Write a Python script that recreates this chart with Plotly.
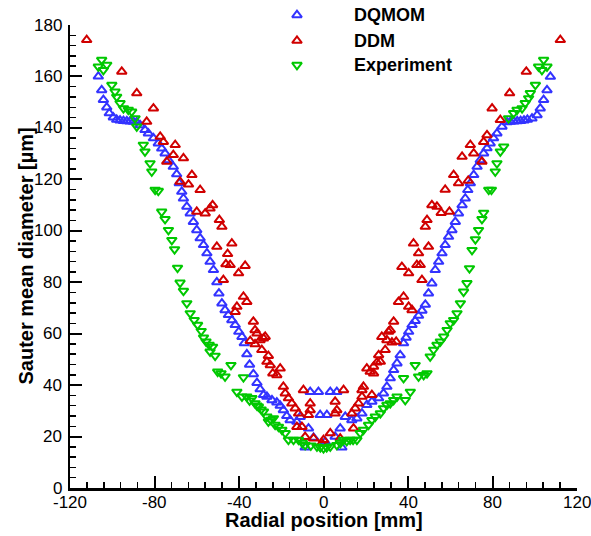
import plotly.graph_objects as go

# ---- data ----
dqmom_r = [-106.6, -105.0, -104.2, -102.6, -101.4, -99.5, -97.9, -96.3, -94.7, -93.1, -91.6, -90.0,
           -88.4, -86.8, -84.5, -82.9, -80.5, -78.2, -76.6, -75.0, -73.4, -71.1, -69.5, -68.3,
           -67.1, -66.3, -64.7, -63.1, -61.6, -60.0, -58.4, -56.8, -55.2, -53.7, -52.1, -50.5,
           -49.5, -48.1, -46.6, -45.0, -43.4, -41.8, -40.1, -38.6, -37.5, -36.3, -35.0, -33.2,
           -31.5, -30.0, -28.4, -26.8, -24.4, -22.1, -20.5, -19.0, -17.4, -15.8, -12.6, -11.0,
           -7.1, -8.7, -6.3, -2.4, -1.6, -4.7, 0.8, 1.6, 3.2, 6.3, 5.5, 7.9, 8.7,
           10.3, 13.4, 15.8, 18.2, 20.5, 22.9, 26.1, 28.4, 30.0, 31.6, 33.2, 34.8, 36.3,
           37.9, 39.1, 40.3, 41.9, 43.4, 45.0, 46.6, 48.2, 49.7, 51.3, 52.9, 54.5, 56.1,
           57.6, 59.2, 60.8, 62.4, 63.9, 65.6, 67.1, 68.3, 69.5, 71.1, 72.7, 74.2, 75.8,
           77.4, 78.9, 80.5, 82.1, 84.5, 86.9, 88.5, 90.1, 91.7, 93.3, 94.9, 96.5, 98.7,
           101.1, 102.6, 104.2, 105.8, 107.4]
dqmom_d = [160.0, 154.7, 150.9, 148.0, 145.7, 144.1, 143.2, 142.9, 142.7, 142.6, 142.5, 142.4,
           142.2, 141.1, 139.2, 137.9, 136.0, 134.0, 132.0, 130.1, 127.5, 124.9, 122.0, 118.5,
           115.2, 112.6, 109.4, 106.8, 103.5, 100.3, 97.1, 94.5, 91.3, 88.0, 84.8, 80.0,
           75.7, 71.8, 69.2, 67.3, 65.3, 63.4, 60.8, 58.8, 56.3, 52.0, 48.0, 44.3,
           40.9, 38.4, 36.2, 35.5, 34.2, 33.3, 32.0, 30.3, 28.0, 26.4, 25.8, 27.7,
           23.2, 15.8, 37.4, 37.4, 28.4, 19.6, 18.0, 28.4, 37.4, 37.4, 20.0, 23.2, 15.8,
           27.7, 26.4, 27.1, 29.0, 32.3, 33.6, 34.9, 36.8, 39.4, 42.7, 45.9, 48.5, 51.7,
           56.3, 58.5, 60.8, 63.4, 65.0, 67.0, 69.0, 71.3, 75.7, 79.6, 84.8, 88.0, 91.3,
           94.5, 97.7, 100.3, 103.5, 106.8, 110.0, 112.6, 115.9, 118.5, 121.7, 124.9, 127.5, 130.1,
           132.1, 134.0, 136.0, 137.9, 140.5, 142.2, 142.4, 142.5, 142.6, 142.7, 142.9, 143.2, 143.7,
           145.0, 147.6, 150.9, 154.7, 159.9]

ddm_r = [-112.1, -95.5, -88.4, -80.5, -83.7, -77.3, -75.8, -70.2, -71.1, -74.2, -66.3, -62.3,
         -63.9, -67.9, -58.4, -60.0, -56.0, -52.5, -53.7, -49.3, -48.1, -50.5, -43.4, -45.4,
         -44.2, -46.2, -37.1, -40.2, -47.4, -37.9, -36.3, -41.0, -41.8, -33.2, -32.4, -31.5,
         -28.4, -34.7, -32.4, -30.0, -27.6, -29.2, -26.1, -26.8, -25.2, -24.0, -20.5, -22.1,
         -19.0, -18.1, -16.6, -15.0, -13.4, -11.8, -12.6, -9.5, -6.3, -6.3, -7.1, -10.2,
         -8.7, -4.7, -0.8, 0.0, 3.2, 7.9, 5.5, 6.3, 5.5, 9.5, 14.2, 13.4, 15.0, 16.6,
         18.2, 18.2, 18.9, 22.9, 20.5, 22.1, 23.7, 23.7, 25.3, 26.9, 26.1, 29.2, 27.6,
         30.0, 32.4, 34.4, 30.8, 31.6, 33.2, 35.5, 37.9, 40.3, 41.9, 46.6, 37.1, 40.3,
         44.2, 45.8, 42.6, 49.7, 45.0, 48.2, 49.0, 51.3, 53.7, 55.7, 59.6, 57.6, 63.9,
         61.6, 68.5, 65.6, 71.1, 75.0, 69.5, 75.8, 77.4, 83.7, 79.8, 88.1, 96.0, 112.1]
ddm_d = [174.2, 161.9, 153.5, 147.6, 142.4, 136.6, 134.6, 133.4, 129.5, 126.9, 128.2, 121.7,
         118.0, 119.1, 115.9, 107.4, 106.8, 110.0, 108.7, 104.2, 101.6, 93.8, 95.1, 91.0,
         86.7, 87.0, 86.4, 83.5, 80.9, 74.4, 72.4, 70.5, 68.5, 64.7, 61.4, 60.1,
         58.2, 57.2, 55.9, 57.5, 58.8, 53.7, 51.4, 49.1, 47.8, 44.6, 46.5, 43.9,
         39.4, 36.8, 34.9, 32.9, 31.0, 29.0, 23.8, 38.1, 32.9, 30.3, 28.4, 23.8,
         19.9, 19.3, 17.4, 18.7, 21.3, 19.3, 33.6, 30.3, 29.0, 38.1, 23.2, 29.0, 31.0, 32.9,
         35.5, 38.1, 39.4, 36.2, 46.5, 45.2, 44.6, 47.2, 48.8, 49.1, 51.7, 53.7, 58.8,
         57.5, 56.6, 56.9, 60.8, 61.4, 64.7, 72.4, 74.4, 70.5, 69.2, 80.9, 86.0, 83.5,
         86.7, 86.7, 95.1, 93.8, 91.3, 101.6, 104.2, 110.0, 109.4, 107.0, 107.4, 116.0, 118.5,
         121.7, 119.5, 128.8, 130.1, 126.9, 133.4, 134.6, 137.2, 143.1, 147.6, 153.5, 161.9, 174.2]

exp_r = [-106.6, -105.0, -104.2, -102.6, -100.2, -98.7, -97.9, -96.3, -94.7, -92.4, -90.8, -89.2,
         -88.4, -85.3, -84.5, -82.1, -81.3, -79.7, -78.2, -76.6, -75.0, -73.4, -71.8, -70.5,
         -69.1, -67.9, -66.3, -64.7, -63.1, -61.2, -59.6, -57.9, -56.8, -55.6, -54.1, -52.5,
         -53.7, -51.3, -50.1, -48.5, -46.6, -43.8, -37.9, -41.0, -38.6, -36.3, -35.0, -33.9,
         -32.4, -31.5, -30.8, -29.5, -28.4, -26.8, -26.1, -25.0, -23.7, -22.9, -21.3, -19.7,
         -18.1, -16.6, -14.2, -11.8, -10.0, -8.7, -6.0, -3.1, -1.5, 0.0, 1.5, 3.2, 6.3,
         8.0, 9.5, 11.0, 12.6, 14.0, 15.8, 17.4, 18.9, 21.3, 22.9, 24.5, 26.9, 28.4, 30.0,
         31.6, 33.2, 34.8, 38.7, 41.1, 37.9, 43.4, 45.0, 47.4, 49.0, 50.5, 52.1, 53.7, 55.3,
         56.9, 58.5, 60.0, 61.6, 63.2, 64.8, 66.3, 67.9, 69.1, 70.3, 71.9, 73.4, 75.0, 75.8,
         78.2, 79.5, 81.3, 82.1, 83.7, 85.3, 87.6, 90.0, 91.6, 94.0, 95.5, 97.1, 97.9,
         100.3, 101.8, 103.4, 104.2, 105.8]
exp_d = [163.8, 166.4, 162.5, 164.5, 156.7, 154.1, 152.1, 149.6, 147.6, 147.0, 146.3, 143.7,
         140.5, 133.4, 130.8, 126.2, 123.0, 115.9, 115.5, 107.4, 104.5, 100.3, 96.4, 92.8,
         85.6, 79.8, 76.6, 71.8, 67.9, 65.3, 63.4, 61.0, 58.5, 56.9, 55.6, 54.9,
         53.0, 51.4, 45.2, 44.6, 43.3, 47.8, 43.0, 37.4, 35.5, 35.5, 34.0, 34.9,
         32.9, 32.0, 31.6, 30.5, 29.7, 27.7, 25.8, 26.5, 27.1, 24.5, 23.8, 22.6,
         21.3, 18.7, 18.7, 18.7, 17.5, 16.7, 16.5, 16.1, 15.8, 15.4, 15.8, 16.1, 16.7,
         17.5, 18.7, 18.2, 18.7, 18.7, 18.7, 21.3, 22.6, 24.5, 26.4, 27.7, 29.0, 31.0, 32.3,
         32.9, 34.2, 35.5, 34.2, 37.4, 42.7, 47.8, 43.3, 43.9, 44.6, 51.1, 53.7, 55.6, 56.9,
         58.8, 61.4, 64.0, 65.3, 67.9, 71.8, 76.3, 79.6, 85.4, 92.5, 96.7, 100.3, 104.5, 107.0,
         115.9, 115.9, 123.0, 126.2, 130.8, 132.7, 143.7, 145.7, 147.0, 147.6, 149.6, 151.5, 153.5,
         156.7, 163.8, 162.5, 166.4, 163.8]

series_names = ["DQMOM", "DDM", "Experiment"]
series_colors = ["#3333ff", "#d00000", "#00c800"]
series_symbols = ["triangle-up-open", "triangle-up-open", "triangle-down-open"]
x_ticks = [-120, -80, -40, 0, 40, 80, 120]
x_ticktext = ["-120", "-80", "-40", "0", "40", "80", "120"]
y_ticks = [0, 20, 40, 60, 80, 100, 120, 140, 160, 180]
y_ticktext = ["0", "20", "40", "60", "80", "100", "120", "140", "160", "180"]

FONT = "Liberation Sans, Arial, sans-serif"
MSIZE = 8.5
MLINE = 2.0
TICKFONT = dict(family=FONT, size=17, color="black")

W, H = 591, 536
ML, MR, MT, MB = 70, 14, 5, 48
plot_h = H - MT - MB           # helper subplot height (483)
main_top = 463 / plot_h        # main y-axis domain top -> plot top at y=25

fig = go.Figure()
for xs, ys, name, col, sym in zip([dqmom_r, ddm_r, exp_r], [dqmom_d, ddm_d, exp_d],
                                  series_names, series_colors, series_symbols):
    fig.add_trace(go.Scatter(x=xs, y=ys, mode="markers", name=name, showlegend=False,
                             marker=dict(symbol=sym, size=MSIZE, color=col,
                                         line=dict(width=MLINE, color=col)),
                             cliponaxis=False))

# manual legend on a helper subplot spanning the whole inner area (0..1)
leg_y = [0.9793, 0.9261, 0.8758]
for i, (name, col, sym) in enumerate(zip(series_names, series_colors, series_symbols)):
    fig.add_trace(go.Scatter(x=[0.4477], y=[leg_y[i]], xaxis="x2", yaxis="y2", mode="markers",
                             showlegend=False, cliponaxis=False, hoverinfo="skip",
                             marker=dict(symbol=sym, size=MSIZE, color=col,
                                         line=dict(width=MLINE, color=col))))
    fig.add_annotation(x=0.556, y=leg_y[i], xref="x2", yref="y2", text="<b>%s</b>" % name,
                       showarrow=False, xanchor="left", yanchor="middle",
                       font=dict(family=FONT, size=18, color="black"))

# tick labels as annotations (exact placement)
for v, t in zip(x_ticks, x_ticktext):
    fig.add_annotation(x=v, y=0, xref="x", yref="y", yshift=-14, showarrow=False,
                       xanchor="center", yanchor="middle", text=t, font=TICKFONT)
for v, t in zip(y_ticks, y_ticktext):
    fig.add_annotation(x=-120, y=v, xref="x", yref="y", xshift=-6, showarrow=False,
                       xanchor="right", yanchor="middle", text=t, font=TICKFONT)

# axis titles
fig.add_annotation(x=0, y=0, xref="x", yref="y", yshift=-32, showarrow=False,
                   xanchor="center", yanchor="middle", text="<b>Radial position [mm]</b>",
                   font=dict(family=FONT, size=20, color="black"))
fig.add_annotation(x=-120, y=90, xref="x", yref="y", xshift=-45, showarrow=False,
                   textangle=-90, xanchor="center", yanchor="middle",
                   text="<b>Sauter mean diameter [µm]</b>",
                   font=dict(family=FONT, size=20, color="black"))

axis_common = dict(showline=True, linewidth=2.5, linecolor="black", mirror=False,
                   showgrid=False, zeroline=False, ticks="inside", ticklen=12,
                   tickwidth=2, tickcolor="black", showticklabels=False)

fig.update_layout(
    width=W, height=H,
    margin=dict(l=ML, r=MR, t=MT, b=MB),
    paper_bgcolor="white", plot_bgcolor="rgba(0,0,0,0)",
    showlegend=False,
    hovermode=False,
    xaxis=dict(range=[-120, 120], tickvals=x_ticks, domain=[0, 1], anchor="y",
               minor=dict(ticks="inside", dtick=8, tick0=0, ticklen=6, tickwidth=1.5,
                          tickcolor="black"),
               **axis_common),
    yaxis=dict(range=[0, 180], tickvals=y_ticks, domain=[0, main_top], anchor="x",
               minor=dict(ticks="inside", dtick=4, tick0=0, ticklen=6, tickwidth=1.5,
                          tickcolor="black"),
               **axis_common),
    xaxis2=dict(domain=[0, 1], range=[0, 1], visible=False, anchor="y2"),
    yaxis2=dict(domain=[0, 1], range=[0, 1], visible=False, anchor="x2"),
)

# remove the default 8px page margin so the figure fills the window exactly
fig.write_html("out.html",
               config={"displayModeBar": False, "staticPlot": True},
               post_script="document.body.style.margin='0';document.body.style.overflow='hidden';")
